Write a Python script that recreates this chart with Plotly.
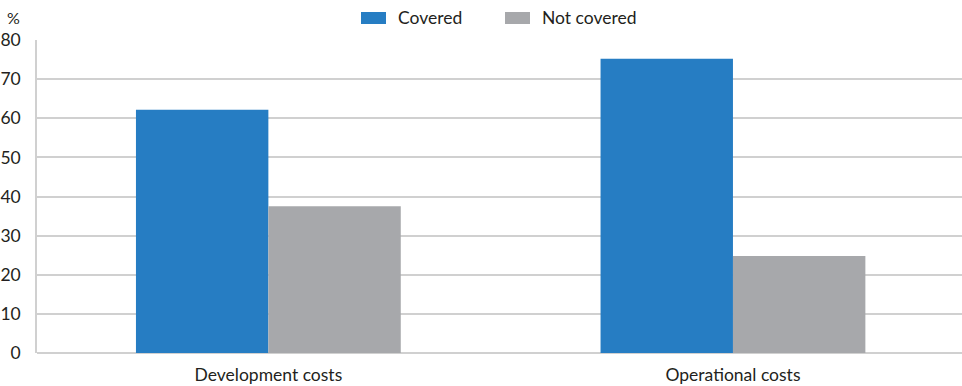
import plotly.graph_objects as go

categories = ["Development costs", "Operational costs"]
covered = [62.2, 75.2]
not_covered = [37.5, 24.8]
y_ticks = [0, 10, 20, 30, 40, 50, 60, 70, 80]

BLUE = "#267dc3"
GREY = "#a7a8ab"
FONT = "Lato"
TEXT = "#231f20"
SIZE = 17.5

fig = go.Figure()
fig.add_bar(x=categories, y=covered, name="Covered", marker_color=BLUE,
            marker_line_width=0, showlegend=False)
fig.add_bar(x=categories, y=not_covered, name="Not covered", marker_color=GREY,
            marker_line_width=0, showlegend=False)

W, H = 962, 386
L, R, T, B = 37, 0, 40, 33

# legend swatches and labels, placed in pixel terms above the plot
def px(x):
    return (x - L) / (W - L - R)

def py(y):
    return (H - B - y) / (H - T - B)

shapes = []
annotations = []
for name, color, x0, tx in [("Covered", BLUE, 361, 396), ("Not covered", GREY, 505, 540)]:
    shapes.append(dict(type="rect", xref="paper", yref="paper",
                       x0=px(x0), x1=px(x0 + 25), y0=py(24), y1=py(12),
                       fillcolor=color, line_width=0))
    annotations.append(dict(text=name, xref="paper", yref="paper",
                            x=px(tx), y=py(18), xanchor="left", yanchor="middle",
                            showarrow=False, font=dict(size=SIZE, color=TEXT, family=FONT)))

annotations.append(dict(text="%", xref="paper", yref="paper", x=px(5), y=py(17),
                        xanchor="left", yanchor="middle", showarrow=False,
                        font=dict(size=16, color=TEXT, family=FONT)))

fig.update_layout(
    width=W, height=H,
    margin=dict(l=L, r=R, t=T, b=B),
    plot_bgcolor="white", paper_bgcolor="white",
    barmode="group", bargap=0.43, bargroupgap=0,
    font=dict(family=FONT, size=SIZE, color=TEXT),
    shapes=shapes, annotations=annotations,
    xaxis=dict(range=[-0.498, 1.493], showline=False, ticks="", showgrid=False,
               automargin=False,
               ticklabelstandoff=9, tickfont=dict(size=SIZE, color=TEXT)),
    yaxis=dict(range=[0, 80], tickvals=y_ticks, showgrid=True, gridcolor="#d0d0d0",
               gridwidth=1.5, showline=True, linecolor="#d0d0d0", linewidth=1.5,
               zeroline=True, zerolinecolor="#d0d0d0", zerolinewidth=1.5,
               automargin=False,
               ticks="", ticklabelstandoff=11, tickfont=dict(size=SIZE, color=TEXT)),
)

fig.write_html("out.html")
